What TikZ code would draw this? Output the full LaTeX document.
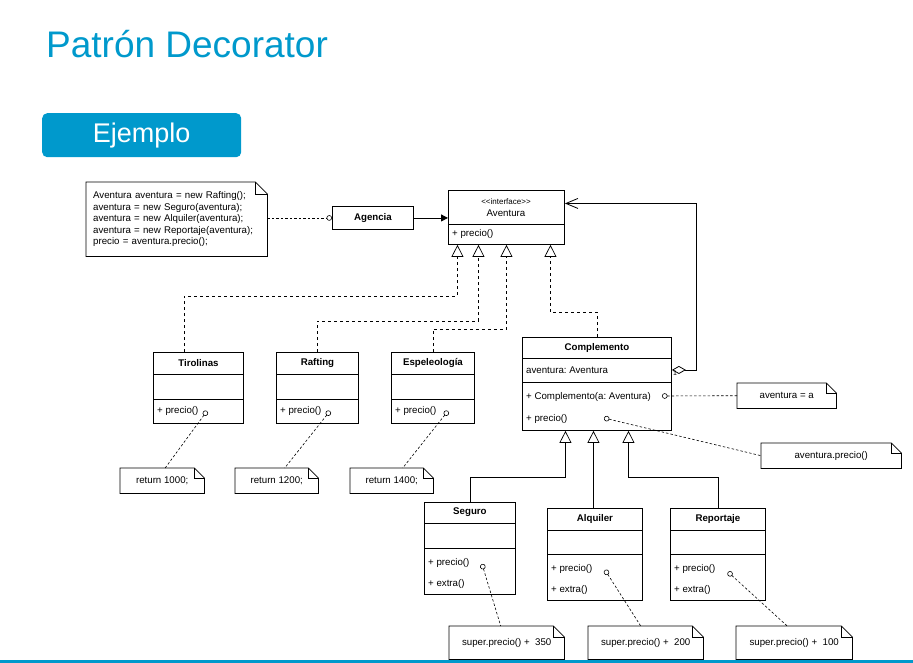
\documentclass[tikz,border=0pt]{standalone}
\usepackage{fontspec}
\setmainfont{Liberation Sans}
\usetikzlibrary{arrows.meta,calc}
\definecolor{slideblue}{RGB}{0,153,204}
\frenchspacing
\newcommand{\umlfont}{\fontsize{9.7}{11.4}\selectfont}
\newcommand{\notefold}[2]{%
  \draw[line width=0.8pt] (#1.north west) -- ([xshift=-#2]#1.north east) -- ([yshift=-#2]#1.north east) -- (#1.south east) -- (#1.south west) -- cycle;
  \draw[line width=0.8pt] ([xshift=-#2]#1.north east) |- ([yshift=-#2]#1.north east);}

\begin{document}
\begin{tikzpicture}[x=1pt,y=-1pt,
  cls/.style={draw,line width=0.9pt,anchor=north west,inner sep=0pt},
  clsname/.style={font=\umlfont\bfseries,inner sep=0pt},
  member/.style={font=\umlfont,anchor=west,inner sep=0pt,xshift=4pt},
  notebox/.style={font=\umlfont,anchor=north west,inner sep=0pt},
  divider/.style={line width=0.9pt},
  realize/.style={line width=0.7pt,-{Triangle[open,length=12pt,width=12pt]}},
  notelink/.style={line width=0.6pt,dash pattern=on 2.5pt off 2pt,{Circle[open,length=5.5pt,width=5.5pt]}-}]
\useasboundingbox (0,0) rectangle (913,663);

% slide header
\node[anchor=base west,inner sep=0pt,text=slideblue,font=\fontsize{37}{40}\selectfont](title) at (46,58) {Patrón Decorator};
\node[anchor=north west,fill=slideblue,rounded corners=5pt,minimum width=199pt,minimum height=44pt,text=white,font=\fontsize{27}{30}\selectfont](ejemplo) at (42,113) {Ejemplo};
\draw[slideblue,line width=3pt] (0,661.5) -- (913,661.5);

% client code
\node[notebox,minimum width=181pt,minimum height=74pt,text width=167pt,inner xsep=7pt,align=left](code) at (86,182) {Aventura aventura = new Rafting();\\aventura = new Seguro(aventura);\\aventura = new Alquiler(aventura);\\aventura = new Reportaje(aventura);\\precio = aventura.precio();};
\notefold{code}{12pt}

\node[cls,minimum width=81pt,minimum height=23pt,font=\umlfont\bfseries](agencia) at (332,206) {Agencia};

% interface
\node[cls,minimum width=116pt,minimum height=54pt](aventura) at (448,190) {};
\node[font=\fontsize{8}{9}\selectfont,inner sep=0pt](aventura-st) at (506,202) {<{}<interface>{}>};
\node[font=\umlfont,inner sep=0pt](aventura-t) at (506,213.5) {Aventura};
\draw[divider] (aventura.west |- 0,224) -- (aventura.east |- 0,224);
\node[member](aventura-m) at (aventura.west |- 0,234) {+ precio()};

% concrete components
\node[cls,minimum width=90pt,minimum height=71pt](tir) at (153,352) {};
\node[clsname](tir-t) at ([yshift=-11pt]tir.north) {Tirolinas};
\draw[divider] (tir.west |- 0,374) -- (tir.east |- 0,374);
\draw[divider] (tir.west |- 0,399) -- (tir.east |- 0,399);
\node[member](tir-m) at (tir.west |- 0,411) {+ precio()};
\coordinate(tir-o) at (207,411);

\node[cls,minimum width=82pt,minimum height=71pt](raf) at (276,352) {};
\node[clsname](raf-t) at ([yshift=-11pt]raf.north) {Rafting};
\draw[divider] (raf.west |- 0,374) -- (raf.east |- 0,374);
\draw[divider] (raf.west |- 0,399) -- (raf.east |- 0,399);
\node[member](raf-m) at (raf.west |- 0,411) {+ precio()};
\coordinate(raf-o) at (330,411);

\node[cls,minimum width=83pt,minimum height=71pt](esp) at (391,352) {};
\node[clsname](esp-t) at ([yshift=-11pt]esp.north) {Espeleología};
\draw[divider] (esp.west |- 0,374) -- (esp.east |- 0,374);
\draw[divider] (esp.west |- 0,399) -- (esp.east |- 0,399);
\node[member](esp-m) at (esp.west |- 0,411) {+ precio()};
\coordinate(esp-o) at (448,411);

\node[notebox,minimum width=84pt,minimum height=25pt](ret1) at (120,468) {return 1000;};
\notefold{ret1}{10pt}
\node[notebox,minimum width=83pt,minimum height=25pt](ret2) at (235,468) {return 1200;};
\notefold{ret2}{10pt}
\node[notebox,minimum width=83pt,minimum height=25pt](ret3) at (350,468) {return 1400;};
\notefold{ret3}{10pt}

% decorator
\node[cls,minimum width=149pt,minimum height=93pt](comp) at (522,337) {};
\node[clsname](comp-t) at ([yshift=-10.5pt]comp.north) {Complemento};
\draw[divider] (comp.west |- 0,358) -- (comp.east |- 0,358);
\draw[divider] (comp.west |- 0,382) -- (comp.east |- 0,382);
\node[member](comp-a) at (comp.west |- 0,370) {aventura: Aventura};
\node[member](comp-m1) at (comp.west |- 0,397) {+ Complemento(a: Aventura)};
\node[member](comp-m2) at (comp.west |- 0,419) {+ precio()};
\coordinate(comp-o1) at (662,396);
\coordinate(comp-o2) at (604,418);
\node[font=\fontsize{7}{8}\selectfont,anchor=south west,inner sep=1pt](mult) at ([yshift=7pt]comp.east) {1};

\node[notebox,minimum width=99pt,minimum height=25pt](asig) at (737,383) {aventura = a};
\notefold{asig}{10pt}
\node[notebox,minimum width=140pt,minimum height=25pt](deleg) at (761,443) {aventura.precio()};
\notefold{deleg}{10pt}

% concrete decorators
\node[cls,minimum width=91pt,minimum height=92pt](seg) at (424,502) {};
\node[clsname](seg-t) at ([yshift=-10.5pt]seg.north) {Seguro};
\draw[divider] (seg.west |- 0,523) -- (seg.east |- 0,523);
\draw[divider] (seg.west |- 0,548) -- (seg.east |- 0,548);
\node[member](seg-m1) at (seg.west |- 0,563) {+ precio()};
\node[member](seg-m2) at (seg.west |- 0,584) {+ extra()};
\coordinate(seg-o) at (482,564);

\node[cls,minimum width=95pt,minimum height=92pt](alq) at (547,508) {};
\node[clsname](alq-t) at ([yshift=-11pt]alq.north) {Alquiler};
\draw[divider] (alq.west |- 0,530) -- (alq.east |- 0,530);
\draw[divider] (alq.west |- 0,554) -- (alq.east |- 0,554);
\node[member](alq-m1) at (alq.west |- 0,569) {+ precio()};
\node[member](alq-m2) at (alq.west |- 0,590) {+ extra()};
\coordinate(alq-o) at (605,570);

\node[cls,minimum width=95pt,minimum height=92pt](rep) at (670,508) {};
\node[clsname](rep-t) at ([yshift=-11pt]rep.north) {Reportaje};
\draw[divider] (rep.west |- 0,530) -- (rep.east |- 0,530);
\draw[divider] (rep.west |- 0,554) -- (rep.east |- 0,554);
\node[member](rep-m1) at (rep.west |- 0,569) {+ precio()};
\node[member](rep-m2) at (rep.west |- 0,590) {+ extra()};
\coordinate(rep-o) at (728,572);

\node[notebox,minimum width=115pt,minimum height=33pt](sup1) at (449,626) {super.precio() +\ \ 350};
\notefold{sup1}{11pt}
\node[notebox,minimum width=115pt,minimum height=33pt](sup2) at (588,626) {super.precio() +\ \ 200};
\notefold{sup2}{11pt}
\node[notebox,minimum width=116pt,minimum height=33pt](sup3) at (736,626) {super.precio() +\ \ 100};
\notefold{sup3}{11pt}

% connectors
\draw[line width=0.6pt,dash pattern=on 2.5pt off 2pt,-{Circle[open,length=5.5pt,width=5.5pt]}] (code.east |- agencia.west) -- (agencia.west);
\draw[line width=0.8pt,-{Triangle[length=7pt,width=7pt]}] (agencia.east) -- (aventura.west |- agencia.east);
\draw[realize,dashed] ([xshift=-14pt]tir.north) -- ++(0,-56) -| ([xshift=-49pt]aventura.south);
\draw[realize,dashed] (raf.north) -- ++(0,-31) -| ([xshift=-28pt]aventura.south);
\draw[realize,dashed] (esp.north) -- ++(0,-23) -| (aventura.south);
\draw[realize,dashed] (comp.north) -- ++(0,-25) -| ([xshift=44pt]aventura.south);
\draw[line width=0.8pt,{Diamond[open,length=14pt,width=8pt]}-{Straight Barb[length=12pt,width=10pt]}] ([yshift=14pt]comp.east) -- ++(24,0) |- ([yshift=14pt]aventura.east);
\draw[realize] (seg.north) -- ++(0,-25) -| ([xshift=-31.5pt]comp.south);
\draw[realize] ([xshift=-1.5pt]alq.north) -- ([xshift=-3.5pt]comp.south);
\draw[realize] (rep.north) -- ++(0,-31) -| ([xshift=31.5pt]comp.south);

\draw[notelink] (tir-o) -- ([xshift=3pt]ret1.north);
\draw[notelink] (raf-o) -- ([xshift=8pt]ret2.north);
\draw[notelink] (esp-o) -- ([xshift=11pt]ret3.north);
\draw[notelink] (comp-o1) -- (asig.west);
\draw[notelink] (comp-o2) -- (deleg.west);
\draw[notelink] (seg-o) -- ([xshift=-6pt]sup1.north);
\draw[notelink] (alq-o) -- ([xshift=-5pt]sup2.north);
\draw[notelink] (rep-o) -- ([xshift=-7pt]sup3.north);
\end{tikzpicture}
\end{document}
